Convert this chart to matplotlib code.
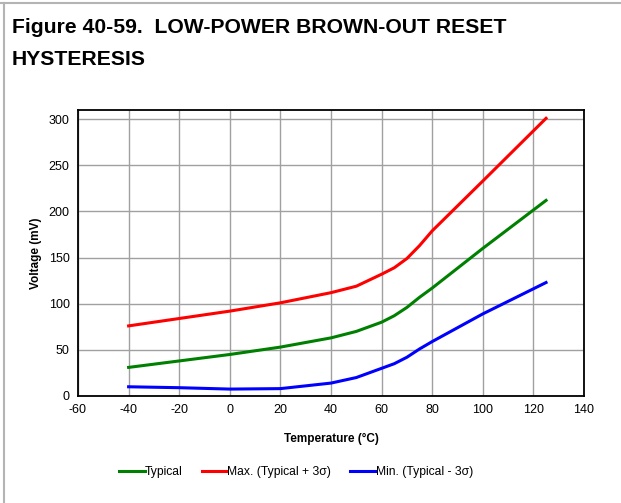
import matplotlib
matplotlib.use("Agg")
import matplotlib.pyplot as plt
from matplotlib.lines import Line2D

plt.rcParams['font.family'] = ['Liberation Sans', 'DejaVu Sans']
plt.rcParams['axes.unicode_minus'] = False

temp = [-40, -20, 0, 20, 40, 50, 60, 65, 70, 75, 80, 100, 125]
typical = [31, 38, 45, 53, 63, 70, 80, 87, 96, 107, 117, 160, 212]
maximum = [76, 84, 92, 101, 112, 119, 132, 139, 149, 163, 179, 233, 301]
minimum = [10, 9, 7.5, 8, 14, 20, 30, 35, 42, 51, 59, 89, 123]

title_lines = ["Figure 40-59.  LOW-POWER BROWN-OUT RESET", "HYSTERESIS"]
xticks = list(range(-60, 141, 20))
yticks = list(range(0, 301, 50))

W, H = 621, 503
fig = plt.figure(figsize=(W / 100, H / 100), dpi=100)
# frame lines (top and left only)
fig.add_artist(Line2D([0, 1], [1 - 2.5 / H, 1 - 2.5 / H], transform=fig.transFigure,
                      color='#b4b4b4', lw=1.5))
fig.add_artist(Line2D([3.5 / W, 3.5 / W], [0, 1 - 2.5 / H], transform=fig.transFigure,
                      color='#b4b4b4', lw=1.5))

fig.text(12 / W, 1 - 33 / H, title_lines[0], fontsize=15.2, fontweight='bold',
         ha='left', va='baseline')
fig.text(12 / W, 1 - 65 / H, title_lines[1], fontsize=15.2, fontweight='bold',
         ha='left', va='baseline')

ax = fig.add_axes([78 / W, 1 - 396 / H, (584 - 78) / W, (396 - 110) / H])
ax.plot(temp, typical, color='#008000', lw=2.2, label='Typical')
ax.plot(temp, maximum, color='#ff0000', lw=2.2, label='Max. (Typical + 3σ)')
ax.plot(temp, minimum, color='#0000ff', lw=2.2, label='Min. (Typical - 3σ)')

ax.set_xlim(-60, 140)
ax.set_ylim(0, 310)
ax.set_xticks(xticks)
ax.set_yticks(yticks)
ax.tick_params(length=0, labelsize=9, pad=6)
ax.grid(True, color='#a0a0a0', lw=1.0)
ax.set_axisbelow(True)
for s in ax.spines.values():
    s.set_linewidth(1.3)
    s.set_color('black')

ax.set_xlabel('Temperature (°C)', fontsize=8.5, fontweight='bold', labelpad=12)
ax.set_ylabel('Voltage (mV)', fontsize=8.5, fontweight='bold', labelpad=5)

fig.legend(loc='center', bbox_to_anchor=(296 / W, 1 - 472 / H), ncol=3, frameon=False,
           fontsize=8.7, handlelength=2.1, handletextpad=0.0, columnspacing=1.6)

fig.savefig('out.png', dpi=100)
